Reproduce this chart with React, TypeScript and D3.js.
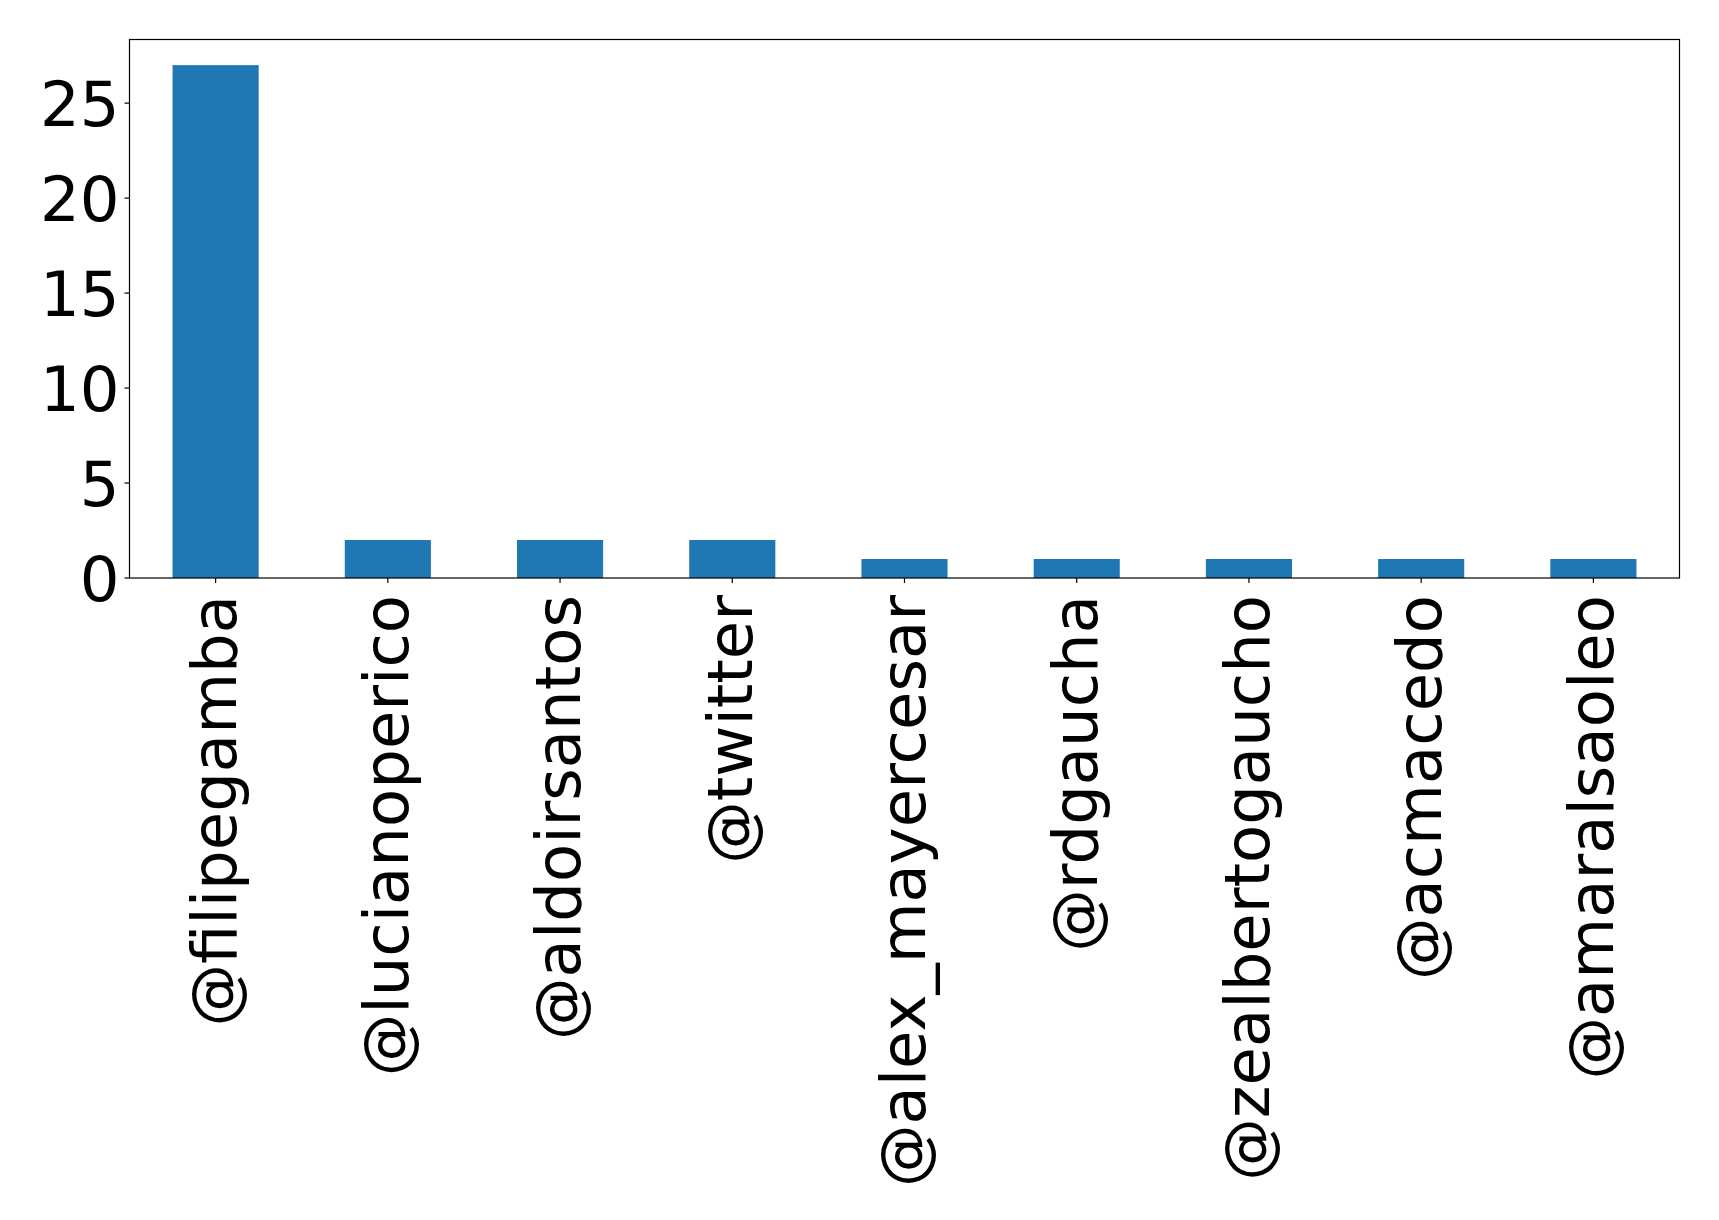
import React from "react";
import * as d3 from "d3";

const handles = [
  "@filipegamba",
  "@lucianoperico",
  "@aldoirsantos",
  "@twitter",
  "@alex_mayercesar",
  "@rdgaucha",
  "@zealbertogaucho",
  "@acmacedo",
  "@amaralsaoleo",
];
const counts = [27, 2, 2, 2, 1, 1, 1, 1, 1];
const yTicks = [0, 5, 10, 15, 20, 25];

const W = 1719;
const H = 1220;
const margin = { left: 129.5, right: 1679.5, top: 39.5, bottom: 578 };
const font = "'DejaVu Sans', sans-serif";
const fs = 62.5;

export default function App() {
  const x = d3
    .scaleLinear()
    .domain([-0.5, handles.length - 0.5])
    .range([margin.left, margin.right]);
  const yMax = d3.max(counts) * 1.05;
  const y = d3
    .scaleLinear()
    .domain([0, yMax])
    .range([margin.bottom, margin.top]);
  const barW = 0.5;

  return (
    <svg
      width={W}
      height={H}
      style={{ position: "absolute", left: 0, top: 0, background: "#fff" }}
    >
      {counts.map((v, i) => (
        <rect
          key={handles[i]}
          x={x(i - barW / 2)}
          y={y(v)}
          width={x(i + barW / 2) - x(i - barW / 2)}
          height={y(0) - y(v)}
          fill="#1f77b4"
        />
      ))}

      {/* frame */}
      <rect
        x={margin.left}
        y={margin.top}
        width={margin.right - margin.left}
        height={margin.bottom - margin.top}
        fill="none"
        stroke="#000"
        strokeWidth={1.2}
      />

      {/* y axis */}
      {yTicks.map((t) => (
        <g key={t}>
          <line
            x1={margin.left - 5}
            x2={margin.left}
            y1={y(t)}
            y2={y(t)}
            stroke="#000"
            strokeWidth={1.2}
          />
          <text
            x={margin.left - 10}
            y={y(t)}
            dy="0.36em"
            textAnchor="end"
            fontFamily={font}
            fontSize={fs}
            fill="#000"
          >
            {t}
          </text>
        </g>
      ))}

      {/* x axis */}
      {handles.map((h, i) => (
        <g key={h}>
          <line
            x1={x(i)}
            x2={x(i)}
            y1={margin.bottom}
            y2={margin.bottom + 5}
            stroke="#000"
            strokeWidth={1.2}
          />
          <text
            transform={`translate(${x(i)},${margin.bottom + 17}) rotate(-90)`}
            dy="0.32em"
            textAnchor="end"
            fontFamily={font}
            fontSize={fs}
            fill="#000"
          >
            {h}
          </text>
        </g>
      ))}
    </svg>
  );
}
